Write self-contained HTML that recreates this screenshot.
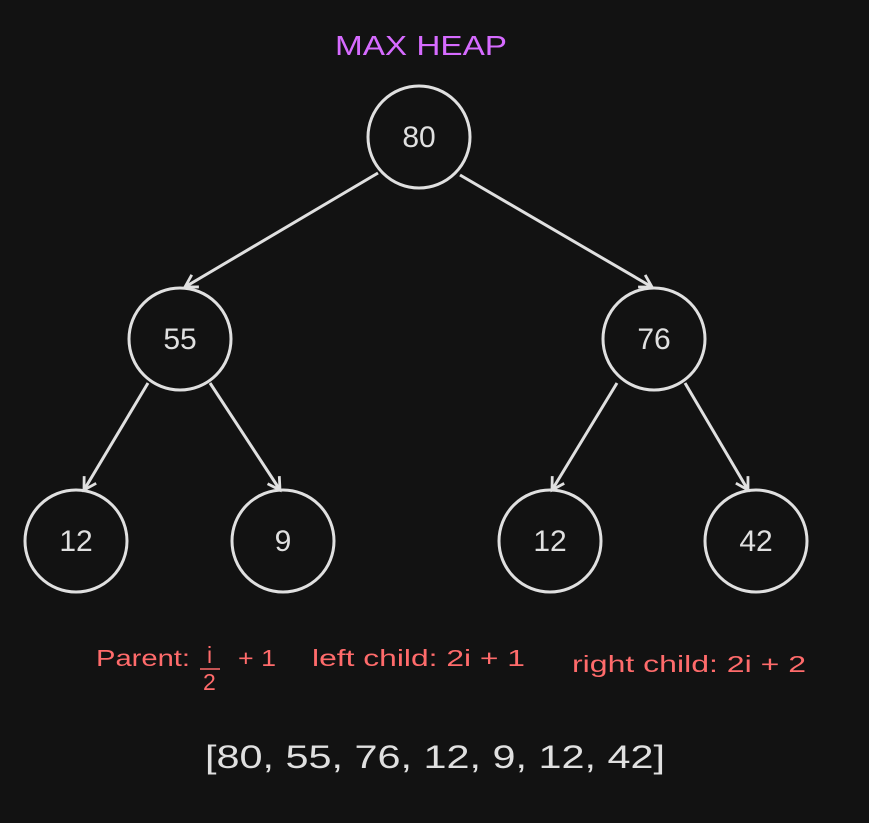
<!DOCTYPE html>
<html><head><style>
body{margin:0;background:#121212;width:869px;height:823px;overflow:hidden}
</style></head><body>
<svg width="869" height="823" xmlns="http://www.w3.org/2000/svg" style="display:block">
<rect width="869" height="823" fill="#121212"/>
<defs><marker id="a" markerWidth="18" markerHeight="18" refX="14" refY="9" orient="auto" markerUnits="userSpaceOnUse"><path d="M2,2 L14,9 L2,16" fill="none" stroke="#e0e0e0" stroke-width="2.8"/></marker></defs>
<g stroke="#e0e0e0" stroke-width="3" fill="none">
<circle cx="419" cy="137" r="51"/>
<circle cx="180" cy="339" r="51"/>
<circle cx="654" cy="339" r="51"/>
<circle cx="76" cy="541" r="51"/>
<circle cx="283" cy="541" r="51"/>
<circle cx="550" cy="541" r="51"/>
<circle cx="756" cy="541" r="51"/>
<g stroke-width="3" marker-end="url(#a)">
<line x1="378" y1="173" x2="185" y2="287"/>
<line x1="460" y1="175" x2="652" y2="287"/>
<line x1="148" y1="383" x2="84" y2="490"/>
<line x1="210" y1="383" x2="280" y2="490"/>
<line x1="617" y1="383" x2="552" y2="490"/>
<line x1="685" y1="383" x2="748" y2="490"/>
</g></g>
<g font-family="Liberation Sans, sans-serif" fill="#e0e0e0" font-size="30" text-anchor="middle">
<text x="419" y="147">80</text>
<text x="180" y="349">55</text>
<text x="654" y="349">76</text>
<text x="76" y="551">12</text>
<text x="283" y="551">9</text>
<text x="550" y="551">12</text>
<text x="756" y="551">42</text>
</g>
<text x="205" y="768" font-family="Liberation Sans, sans-serif" font-size="32" fill="#e0e0e0" textLength="460" lengthAdjust="spacingAndGlyphs">[80, 55, 76, 12, 9, 12, 42]</text>
<text x="335" y="55" font-family="Liberation Sans, sans-serif" font-size="28" fill="#d66bff" textLength="172" lengthAdjust="spacingAndGlyphs">MAX HEAP</text>
<g font-family="Liberation Sans, sans-serif" font-size="23" fill="#ff6b6b">
<text x="96" y="666" textLength="94" lengthAdjust="spacingAndGlyphs">Parent:</text>
<text x="207" y="663">i</text>
<line x1="200" y1="669" x2="220" y2="669" stroke="#ff6b6b" stroke-width="1.5"/>
<text x="203" y="690">2</text>
<text x="238" y="666" textLength="38" lengthAdjust="spacingAndGlyphs">+ 1</text>
<text x="312" y="666" textLength="213" lengthAdjust="spacingAndGlyphs">left child: 2i + 1</text>
<text x="572" y="672" textLength="234" lengthAdjust="spacingAndGlyphs">right child: 2i + 2</text>
</g>
</svg>
</body></html>
